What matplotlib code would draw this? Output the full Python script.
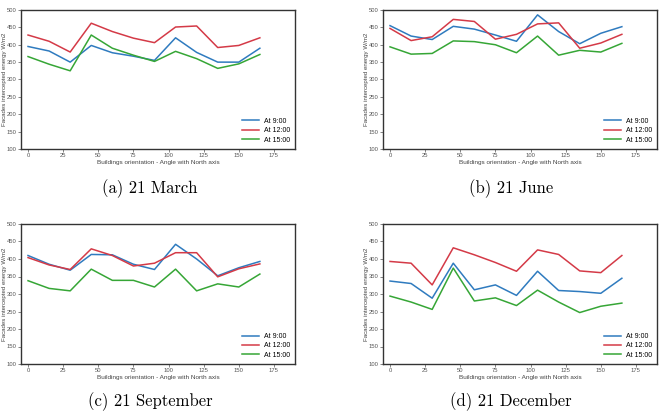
import matplotlib
matplotlib.use("Agg")
import matplotlib.pyplot as plt

plt.rcParams["font.family"] = ["Liberation Sans", "DejaVu Sans"]

# orientation angles (deg)
angles = [0, 15, 30, 45, 60, 75, 90, 105, 120, 135, 150, 165]

# 21 March
march_9 = [395, 382, 350, 398, 377, 367, 355, 420, 378, 350, 350, 390]
march_12 = [428, 410, 379, 462, 438, 419, 406, 451, 454, 392, 398, 420]
march_15 = [366, 344, 325, 428, 390, 370, 352, 381, 360, 332, 345, 372]

# 21 June
june_9 = [455, 425, 415, 453, 445, 428, 410, 486, 438, 403, 433, 452]
june_12 = [447, 412, 423, 473, 467, 416, 430, 460, 463, 390, 405, 430]
june_15 = [394, 373, 375, 411, 409, 400, 377, 425, 370, 384, 379, 404]

# 21 September
sept_9 = [410, 385, 368, 413, 412, 385, 370, 442, 400, 352, 375, 393]
sept_12 = [404, 383, 370, 429, 410, 380, 388, 418, 418, 349, 372, 386]
sept_15 = [338, 316, 309, 371, 339, 339, 320, 371, 309, 329, 320, 357]

# 21 December
dec_9 = [337, 330, 288, 388, 312, 326, 296, 365, 310, 307, 302, 345]
dec_12 = [393, 388, 326, 432, 412, 390, 365, 426, 413, 366, 361, 410]
dec_15 = [294, 277, 256, 374, 280, 289, 267, 311, 277, 247, 265, 274]

labels = ["At 9:00", "At 12:00", "At 15:00"]
captions = ["(a) 21 March", "(b) 21 June", "(c) 21 September", "(d) 21 December"]
panels = [
    (march_9, march_12, march_15),
    (june_9, june_12, june_15),
    (sept_9, sept_12, sept_15),
    (dec_9, dec_12, dec_15),
]
colors = ["#2f7bbf", "#d43a47", "#36a636"]

W, H = 663, 418
fig = plt.figure(figsize=(W / 100, H / 100), dpi=100)

# axes boxes in pixels: left, top, right, bottom
boxes = [(21, 10, 295, 149), (383, 10, 657, 149),
         (21, 224, 295, 364), (383, 224, 657, 364)]
cap_pos = [(150, 189), (511, 189), (150, 402), (511, 402)]

for i, (series, box) in enumerate(zip(panels, boxes)):
    l, t, r, b = box
    ax = fig.add_axes([l / W, 1 - b / H, (r - l) / W, (b - t) / H])
    for ys, lab, c in zip(series, labels, colors):
        ax.plot(angles, ys, color=c, lw=1.1, label=lab)
    ax.set_xlim(-5, 190)
    ax.set_ylim(100, 500)
    ax.set_xticks([0, 25, 50, 75, 100, 125, 150, 175])
    ax.set_yticks(range(100, 501, 50))
    ax.tick_params(labelsize=4.2, colors="#555555", length=2, width=0.5, pad=1.2)
    for s in ax.spines.values():
        s.set_color("#333333")
        s.set_linewidth(1.0)
    ax.set_xlabel("Buildings orientation - Angle with North axis",
                  fontsize=4.6, color="#444444", labelpad=1)
    ax.set_ylabel("Facades intercepted energy W/m2",
                  fontsize=4.4, color="#444444")
    ax.yaxis.set_label_coords(-14 / (r - l), 0.5)
    ax.legend(loc="lower right", frameon=False, fontsize=5, handlelength=2.4,
              labelspacing=0.35, borderaxespad=0.35, handletextpad=0.7)
    cx, cy = cap_pos[i]
    fig.text(cx / W, 1 - cy / H, captions[i], ha="center", va="center",
             fontsize=12, family="cmr10")

fig.savefig("out.png", dpi=100)
